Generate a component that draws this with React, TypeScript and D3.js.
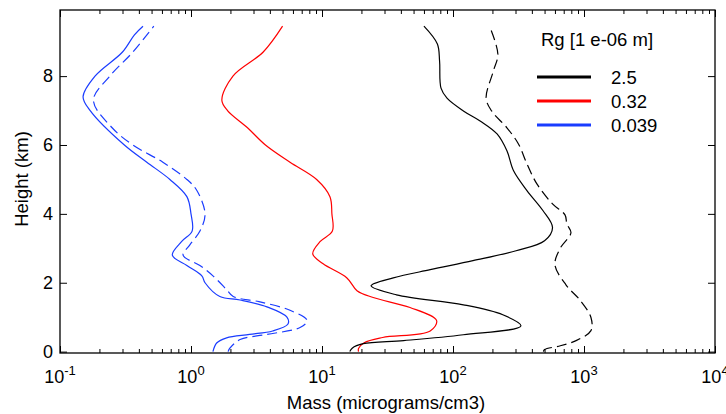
import { useRef, useEffect } from "react";
import * as d3 from "d3";

type Pt = { h: number; v: number };

// heights (km) and mass (micrograms/cm3)
const blueSolidH = [0, 0.25, 0.4, 0.5, 0.6, 0.8, 1.0, 1.3, 1.5, 1.6, 2.0, 2.2, 2.5, 2.8, 3.2, 3.5, 4.0, 4.5, 5.0, 5.5, 6.0, 7.0, 7.4, 8.0, 8.7, 9.2, 9.45];
const blueSolidV = [1.47, 1.57, 1.87, 2.8, 4.2, 5.5, 5.4, 3.8, 2.37, 1.66, 1.28, 1.21, 0.93, 0.72, 0.85, 1.02, 1.0, 0.93, 0.69, 0.46, 0.31, 0.17, 0.15, 0.185, 0.3, 0.37, 0.43];

const blueDashH = [0, 0.1, 0.35, 0.5, 0.7, 0.9, 1.2, 1.45, 1.6, 1.8, 2.2, 2.5, 2.8, 3.1, 3.5, 4.0, 4.7, 5.0, 5.5, 6.0, 6.5, 7.3, 8.0, 8.7, 9.45];
const blueDashV = [1.92, 1.98, 2.37, 3.8, 6.8, 7.7, 5.7, 3.3, 2.1, 1.87, 1.47, 1.17, 0.87, 0.98, 1.17, 1.28, 1.1, 0.93, 0.61, 0.36, 0.25, 0.18, 0.24, 0.36, 0.52];

const redH = [0, 0.09, 0.26, 0.41, 0.6, 0.9, 1.28, 1.57, 1.77, 2.14, 2.55, 2.84, 3.2, 3.5, 4.0, 4.5, 5.0, 5.5, 6.0, 6.5, 7.0, 7.3, 8.0, 8.7, 9.45];
const redV = [19, 19, 21, 29, 67, 75, 47, 24.6, 18.5, 15.5, 10.2, 8.5, 9.7, 12, 11.9, 11.5, 9.1, 5.7, 3.7, 2.7, 1.9, 1.72, 2.09, 3.56, 5.0];

const blackSolidH = [0, 0.1, 0.23, 0.32, 0.49, 0.75, 1.07, 1.36, 1.65, 1.91, 2.14, 2.38, 2.64, 2.93, 3.22, 3.6, 4.09, 4.67, 5.25, 5.83, 6.32, 6.7, 6.99, 7.36, 7.65, 8.43, 8.93, 9.45];
const blackSolidV = [16.3, 17, 20.6, 42, 120, 330, 240, 120, 37, 23.7, 35, 67, 142, 303, 500, 575, 487, 368, 290, 258, 217, 161, 120, 90, 81, 79, 76, 60];

const blackDashH = [0, 0.06, 0.17, 0.32, 0.61, 0.99, 1.48, 1.94, 2.52, 3.01, 3.45, 3.71, 3.97, 4.29, 4.87, 5.45, 6.03, 6.5, 6.99, 7.36, 8.14, 8.64, 9.45];
const blackDashV = [490, 500, 660, 870, 1130, 1130, 940, 728, 600, 660, 795, 740, 716, 575, 437, 367, 316, 258, 197, 179, 203, 220, 190];

const legendLabels = ["2.5", "0.32", "0.039"];
const legendColors = ["#000000", "#ff0000", "#1a3cff"];
const xDecades = [-1, 0, 1, 2, 3, 4];
const yTicks = [0, 2, 4, 6, 8];

const font = "'Liberation Sans', Arial, sans-serif";

function zip(h: number[], v: number[]): Pt[] {
  return h.map((hv, i) => ({ h: hv, v: v[i] }));
}

export default function App() {
  const ref = useRef<SVGSVGElement>(null);

  useEffect(() => {
    document.body.style.margin = "0";
    if (!ref.current) return;
    const svg = d3.select(ref.current);
    svg.selectAll("*").remove();

    const left = 60, right = 715, top = 10, bottom = 353;

    const x = d3.scaleLog().domain([0.1, 10000]).range([left, right]);
    const y = d3.scaleLinear().domain([-0.04, 9.92]).range([bottom, top]);

    const line = d3.line<Pt>()
      .x(d => x(d.v))
      .y(d => y(d.h))
      .curve(d3.curveCatmullRom);

    const series = [
      { data: zip(blueSolidH, blueSolidV), color: legendColors[2], dash: null },
      { data: zip(blueDashH, blueDashV), color: legendColors[2], dash: "10,5" },
      { data: zip(redH, redV), color: legendColors[1], dash: null },
      { data: zip(blackSolidH, blackSolidV), color: legendColors[0], dash: null },
      { data: zip(blackDashH, blackDashV), color: legendColors[0], dash: "10,5" },
    ];

    const plot = svg.append("g");
    series.forEach(s => {
      plot.append("path")
        .datum(s.data)
        .attr("fill", "none")
        .attr("stroke", s.color)
        .attr("stroke-width", 1.2)
        .attr("stroke-dasharray", s.dash)
        .attr("d", line);
    });

    // ticks (inward, MATLAB style)
    const majors = xDecades.map(e => Math.pow(10, e));
    const minors: number[] = [];
    xDecades.slice(0, -1).forEach(e => {
      for (let k = 2; k <= 9; k++) minors.push(k * Math.pow(10, e));
    });

    const tickStyle = (g: d3.Selection<SVGGElement, unknown, null, undefined>) => {
      g.select(".domain").remove();
      g.selectAll("text").remove();
      g.selectAll("line").attr("stroke", "#000");
    };

    svg.append("g").attr("transform", `translate(0,${bottom})`)
      .call(d3.axisBottom(x).tickValues(majors).tickSize(-7)).call(tickStyle);
    svg.append("g").attr("transform", `translate(0,${bottom})`)
      .call(d3.axisBottom(x).tickValues(minors).tickSize(-4)).call(tickStyle);
    svg.append("g").attr("transform", `translate(0,${top})`)
      .call(d3.axisTop(x).tickValues(majors).tickSize(-7)).call(tickStyle);
    svg.append("g").attr("transform", `translate(0,${top})`)
      .call(d3.axisTop(x).tickValues(minors).tickSize(-4)).call(tickStyle);
    svg.append("g").attr("transform", `translate(${left},0)`)
      .call(d3.axisLeft(y).tickValues(yTicks).tickSize(-7)).call(tickStyle);
    svg.append("g").attr("transform", `translate(${right},0)`)
      .call(d3.axisRight(y).tickValues(yTicks).tickSize(-7)).call(tickStyle);

    // frame
    svg.append("rect")
      .attr("x", left).attr("y", top)
      .attr("width", right - left).attr("height", bottom - top)
      .attr("fill", "none").attr("stroke", "#000").attr("stroke-width", 1.3);

    // x tick labels 10^n
    xDecades.forEach(e => {
      const t = svg.append("text")
        .attr("x", x(Math.pow(10, e)))
        .attr("y", 383)
        .attr("text-anchor", "middle")
        .attr("font-family", font)
        .attr("font-size", 18);
      t.append("tspan").text("10");
      t.append("tspan").attr("dy", -8).attr("font-size", 13).text(String(e));
    });

    // y tick labels
    yTicks.forEach(v => {
      svg.append("text")
        .attr("x", 53)
        .attr("y", y(v) + 6)
        .attr("text-anchor", "end")
        .attr("font-family", font)
        .attr("font-size", 18)
        .text(String(v));
    });

    svg.append("text")
      .attr("x", 386).attr("y", 409)
      .attr("text-anchor", "middle")
      .attr("font-family", font).attr("font-size", 18.5)
      .text("Mass (micrograms/cm3)");

    svg.append("text")
      .attr("transform", "translate(28,179) rotate(-90)")
      .attr("text-anchor", "middle")
      .attr("font-family", font).attr("font-size", 18.5)
      .text("Height (km)");

    // legend
    svg.append("text")
      .attr("x", 541).attr("y", 46)
      .attr("font-family", font).attr("font-size", 18.5)
      .text("Rg [1 e-06 m]");

    legendLabels.forEach((lab, i) => {
      const ly = 77 + i * 24;
      svg.append("line")
        .attr("x1", 537).attr("x2", 591)
        .attr("y1", ly).attr("y2", ly)
        .attr("stroke", legendColors[i]).attr("stroke-width", 3);
      svg.append("text")
        .attr("x", 611).attr("y", ly + 7)
        .attr("font-family", font).attr("font-size", 18.5)
        .text(lab);
    });
  }, []);

  return (
    <svg ref={ref} width={726} height={414} style={{ display: "block", background: "#fff" }} />
  );
}
